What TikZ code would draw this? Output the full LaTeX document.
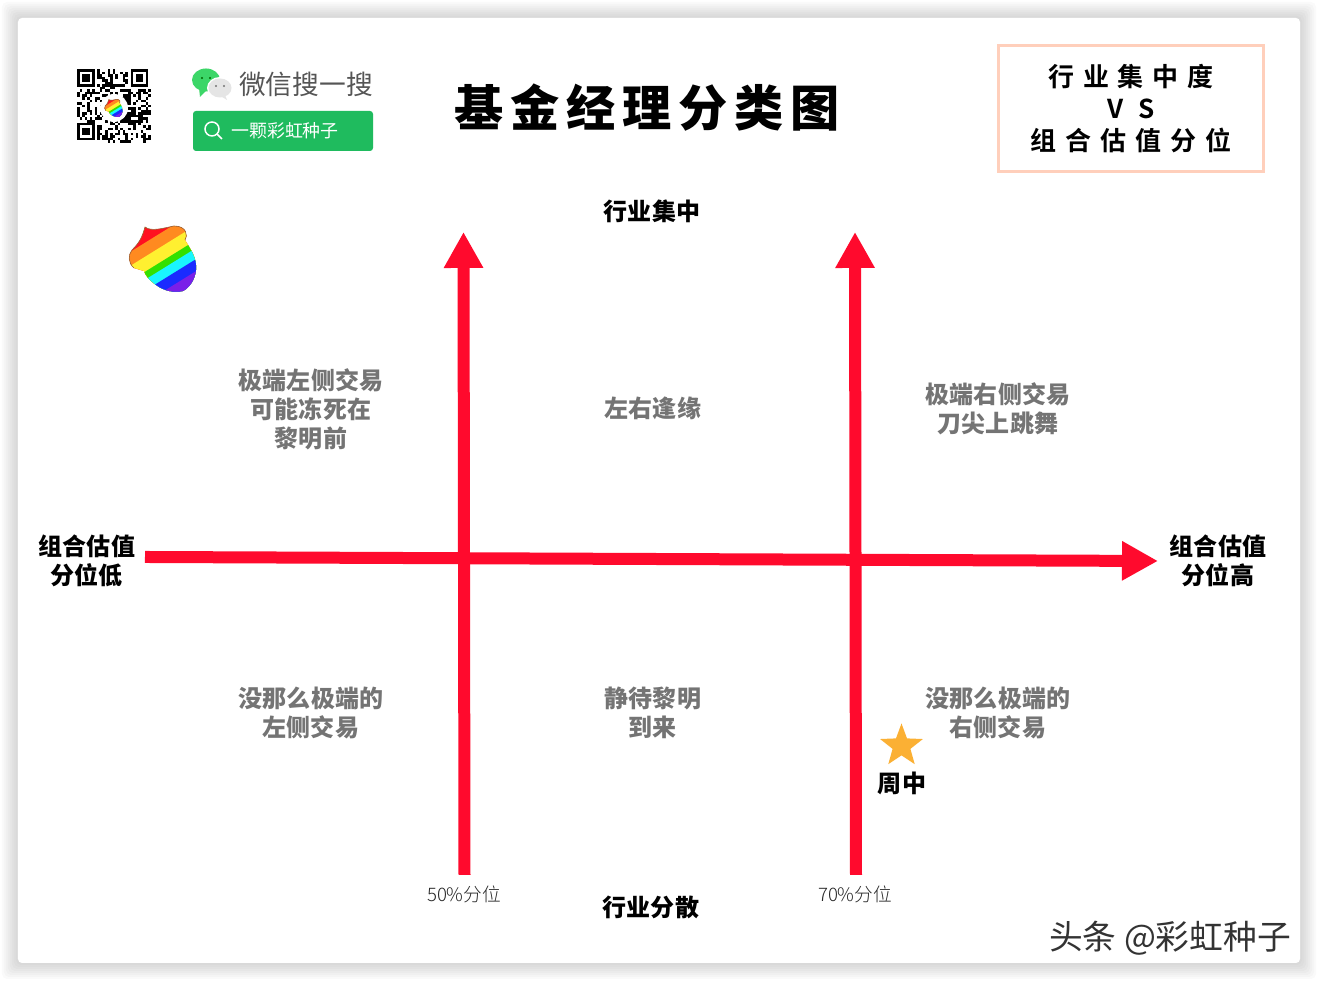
\documentclass[tikz,border=0pt]{standalone}
\usepackage{fontspec}
\setmainfont{Noto Sans CJK SC}
\newfontfamily\cjkr{Noto Sans CJK SC}
\newfontfamily\cjkl{Noto Sans CJK SC Light}
\newfontfamily\cjkh{Noto Sans CJK SC Black}
\newfontfamily\cjkt[LetterSpace=14]{Noto Sans CJK SC Black}
\newfontfamily\cjkm[LetterSpace=34]{Noto Sans CJK SC Bold}
\usetikzlibrary{arrows.meta,shapes.geometric,positioning}
\definecolor{axisred}{HTML}{FF0A2D}
\definecolor{labelgrey}{HTML}{747474}
\definecolor{boxpeach}{HTML}{FFCFBB}
\definecolor{wxgreen}{HTML}{1FBB5E}
\definecolor{wxbubble}{HTML}{3CD668}
\definecolor{wxtext}{HTML}{555555}
\definecolor{stargold}{HTML}{FBB034}
\definecolor{nutred}{HTML}{FF1020}
\definecolor{nutorange}{HTML}{FF8A20}
\definecolor{nutyellow}{HTML}{FFF030}
\definecolor{nutgreen}{HTML}{33E000}
\definecolor{nutcyan}{HTML}{19F5FF}
\definecolor{nutblue}{HTML}{1A2BFF}
\definecolor{nutviolet}{HTML}{7A1FE8}
\newcommand{\nutcap}{(.21,.18) .. controls (.24,.22) and (.23,.32) .. (.10,.32)
	.. controls (0,.30) and (-.13,.26) .. (-.19,.31)
	.. controls (-.22,.20) and (-.25,.15) .. (-.32,.08)
	.. controls (-.36,.03) and (-.36,-.05) .. (-.30,-.10)}
\newcommand{\nutpath}{(-.19,.31) .. controls (-.13,.26) and (0,.30) .. (.10,.32)
	.. controls (.23,.32) and (.24,.22) .. (.21,.18)
	.. controls (.27,.08) and (.33,0) .. (.32,-.12)
	.. controls (.31,-.22) and (.25,-.30) .. (.19,-.33)
	.. controls (.10,-.35) and (0,-.33) .. (-.08,-.27)
	.. controls (-.15,-.22) and (-.19,-.17) .. (-.20,-.13)
	-- (-.30,-.10)
	.. controls (-.36,-.05) and (-.36,.03) .. (-.32,.08)
	.. controls (-.25,.15) and (-.22,.20) .. (-.19,.31) -- cycle}
\tikzset{
	redaxis/.style={draw=axisred,line width=.12cm,-{Triangle[length=.36cm,width=.37cm]}},
	greylabel/.style={align=center,inner sep=0pt,text=labelgrey,font=\cjkh\fontsize{6.83}{8.25}\selectfont},
	blacklabel/.style={align=center,inner sep=0pt,text=black,font=\cjkh\fontsize{6.83}{8.25}\selectfont},
	tinylabel/.style={inner sep=0pt,text=black!85,font=\cjkl\fontsize{5.3}{6.5}\selectfont},
	rainbownut/.pic={
		\begin{scope}
			\clip \nutpath;
			\foreach \c/\b in {nutred/1.0,nutorange/.27,nutyellow/.13,nutgreen/-.02,nutcyan/-.10,nutblue/-.21,nutviolet/-.33}
				\fill[\c] (-.5,{\b-.31}) -- (.5,{\b+.31}) -- (.5,-.8) -- (-.5,-.8) -- cycle;
		\end{scope}
		\draw[brown!80!black,line width=.006cm] \nutcap;
	}
}
\begin{document}
\begin{tikzpicture}
	\useasboundingbox (0,0) rectangle (13.18,9.82);
	% sheet and its soft shadow
	\foreach \s in {.16,.14,.12,.10,.08,.06,.04,.02}
		\fill[black,opacity=.02,rounded corners=.05cm] ({.18-\s},{.19-\s}) rectangle ({13.00+\s},{9.64+\s});
	\fill[white,rounded corners=.04cm] (.18,.19) rectangle (13.00,9.64);

	% qr code
	\pgfmathsetseed{11}
	\foreach \i in {0,...,28}
		\foreach \j in {0,...,28}{
			\pgfmathparse{rnd>.52 ? 1 : 0}
			\ifnum\pgfmathresult=1
				\fill[black] ({.77+\i*.0255},{9.13-\j*.0255}) rectangle ({.77+(\i+1)*.0255},{9.13-(\j+1)*.0255});
			\fi
		}
	\foreach \x/\y in {.77/9.13,1.3055/9.13,.77/8.5945}{
		\fill[white] (\x,\y) rectangle ({\x+.2},{\y-.2});
		\draw[black,line width=.0255cm] ({\x+.013},{\y-.013}) rectangle ({\x+.166},{\y-.166});
		\fill[black] ({\x+.051},{\y-.051}) rectangle ({\x+.128},{\y-.128});
	}
	\fill[white] (1.14,8.74) circle (.14);
	\pic[scale=.27] at (1.14,8.74) {rainbownut};

	% wechat search banner
	\fill[wxbubble] (2.06,9.02) ellipse (.14 and .115);
	\fill[wxbubble] (1.99,8.94) -- (2.00,8.85) -- (2.07,8.92) -- cycle;
	\fill[white] (2.20,8.94) ellipse (.13 and .11);
	\fill[black!10] (2.20,8.94) ellipse (.115 and .095);
	\fill[black!10] (2.25,8.87) -- (2.27,8.82) -- (2.19,8.87) -- cycle;
	\foreach \x/\y in {2.02/9.04,2.10/9.04}
		\fill[green!40!black] (\x,\y) circle (.012);
	\foreach \x/\y in {2.16/8.96,2.24/8.96}
		\fill[black!55] (\x,\y) circle (.012);
	\node[inner sep=0pt,text=wxtext,font=\cjkr\fontsize{7.6}{9}\selectfont] (wxname) at (3.06,8.98) {微信搜一搜};
	\node[inner sep=0pt,minimum width=1.80cm,minimum height=.40cm,fill=wxgreen,rounded corners=.03cm] (wxbar) at (2.83,8.51) {};
	\draw[white,line width=.015cm] (2.12,8.53) circle (.07);
	\draw[white,line width=.015cm] (2.17,8.48) -- (2.22,8.43);
	\node[inner sep=0pt,text=white,font=\cjkr\fontsize{5.1}{6}\selectfont] (wxid) at (2.85,8.51) {一颗彩虹种子};

	% title and key box
	\node[inner sep=0pt,font=\cjkt\fontsize{14}{16}\selectfont] (title) at (6.47,8.74) {基金经理分类图};
	\node[draw=boxpeach,line width=.03cm,minimum width=2.65cm,minimum height=1.26cm,inner sep=0pt,align=center,font=\cjkm\fontsize{7.4}{9.1}\selectfont] (keybox) at (11.31,8.735) {行业集中度\\V S\\组合估值分位};

	\pic[scale=1] at (1.64,7.24) {rainbownut};

	% axes
	\coordinate (hstart) at (1.45,4.25);
	\coordinate (hend) at (11.58,4.21);
	\coordinate (lowstart) at (4.645,1.07);
	\coordinate (lowend) at (4.635,7.50);
	\coordinate (highstart) at (8.56,1.07);
	\coordinate (highend) at (8.55,7.50);
	\draw[redaxis] (hstart) -- (hend);
	\draw[redaxis] (lowstart) -- (lowend);
	\draw[redaxis] (highstart) -- (highend);

	% axis labels
	\node[blacklabel] (topname) at (6.52,7.71) {行业集中};
	\node[blacklabel] (bottomname) at (6.51,.75) {行业分散};
	\node[blacklabel] (leftname) at (.87,4.21) {组合估值\\分位低};
	\node[blacklabel] (rightname) at (12.18,4.21) {组合估值\\分位高};
	\node[tinylabel] (lowmark) at (4.64,.88) {50\%分位};
	\node[tinylabel] (highmark) at (8.55,.88) {70\%分位};

	% the six fields
	\node[greylabel] (fieldtl) at (3.11,5.73) {极端左侧交易\\可能冻死在\\黎明前};
	\node[greylabel] (fieldtm) at (6.53,5.74) {左右逢缘};
	\node[greylabel] (fieldtr) at (9.98,5.73) {极端右侧交易\\刀尖上跳舞};
	\node[greylabel] (fieldbl) at (3.11,2.69) {没那么极端的\\左侧交易};
	\node[greylabel] (fieldbm) at (6.53,2.69) {静待黎明\\到来};
	\node[greylabel] (fieldbr) at (9.98,2.69) {没那么极端的\\右侧交易};

	% star
	\node[star,star points=5,star point ratio=2.4,fill=stargold,minimum size=.45cm,inner sep=0pt] (fundstar) at (9.015,2.36) {};
	\node[blacklabel] (fundname) at (9.02,1.99) {周中};

	\node[inner sep=0pt,text=black!80,font=\cjkr\fontsize{9.6}{11}\selectfont] (mark) at (11.70,.44) {头条 @彩虹种子};
\end{tikzpicture}
\end{document}
